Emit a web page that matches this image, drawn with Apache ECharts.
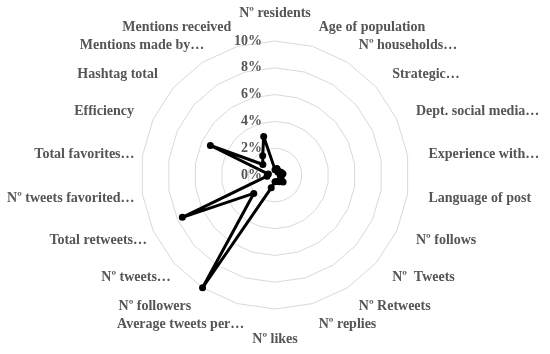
<!DOCTYPE html>
<html>
<head>
<meta charset="utf-8">
<script src="https://cdn.jsdelivr.net/npm/echarts@6/dist/echarts.min.js"></script>
<style>
html,body{margin:0;padding:0;background:#fff;}
#chart{width:550px;height:354px;}
</style>
</head>
<body>
<div id="chart"></div>
<script>
// Indicators listed clockwise starting at the top
const indicatorNames = ['Nº residents','Age of population','Nº households…','Strategic…','Dept. social media…','Experience with…','Language of post','Nº follows','Nº  Tweets','Nº Retweets','Nº replies','Nº likes','Average tweets per…','Nº followers','Nº tweets…','Total retweets…','Nº tweets favorited…','Total favorites…','Efficiency','Hashtag total','Mentions made by…','Mentions received'];
const seriesValues = [0.4,0.5,0.4,0.3,0.5,0.6,0.4,0.5,0.8,0.6,0.5,0.5,1.0,10.0,2.1,7.6,0.6,0.5,5.3,1.2,1.7,3.0];
const radialTicks = [0,2,4,6,8,10];
const radialMax = 10;

// ---- layout / style (not data) ----
const center = [275, 175];
const radius = 134;
const nameGap = -40;          // base anchor, labels pushed out by padding below
const labelRadius = 155;      // where Excel-style labels sit
const labelShiftX = {12: 13, 14: 13, 15: 13, 16: 13, 17: 13, 20: 13}; // horizontal nudges of some left labels
const topLabelBottom = 20.5, bottomLabelTop = 332;
const textColor = '#555555';
const fontFamily = '"Liberation Serif", "Times New Roman", serif';
const baseFont = { color: textColor, fontSize: 14, fontWeight: 'bold', fontFamily: fontFamily };

const n = indicatorNames.length;
// ECharts lays radar indicators out counter-clockwise; reorder to get clockwise
const order = [0];
for (let i = n - 1; i >= 1; i--) order.push(i);
const indicator = order.map(i => ({ name: indicatorNames[i], min: 0, max: radialMax }));
const data = order.map(i => seriesValues[i]);

// per-label rich styles that move each name to its place
const r0 = radius + nameGap;
const rich = {};
const keyOf = {};
indicatorNames.forEach((name, i) => {
  const th = i * 2 * Math.PI / n;
  const s = Math.sin(th), c = Math.cos(th);
  const ext = labelRadius - r0;
  let pad;
  if (i === 0) {
    pad = [0, 0, (center[1] - r0) - topLabelBottom, 0];
  } else if (i * 2 === n) {
    pad = [bottomLabelTop - (center[1] + r0), 0, 0, 0];
  } else {
    const dy = -ext * c + 1;
    const pt = dy > 0 ? 2 * dy : 0, pb = dy < 0 ? -2 * dy : 0;
    if (i < n / 2) {
      pad = [pt, 0, pb, ext * s];
    } else {
      const dx = ext * s + (labelShiftX[i] || 0); // s < 0
      pad = [pt, -dx, pb, 0];
    }
  }
  keyOf[name] = 'k' + i;
  rich['k' + i] = Object.assign({ padding: pad.map(v => Math.round(v * 10) / 10) }, baseFont);
});

const chart = echarts.init(document.getElementById('chart'));
chart.setOption({
  animation: false,
  backgroundColor: '#fff',
  radar: {
    center: center,
    radius: radius,
    startAngle: 90,
    shape: 'polygon',
    splitNumber: radialTicks.length - 1,
    indicator: indicator,
    axisName: Object.assign({}, baseFont, {
      formatter: function (name) { return '{' + keyOf[name] + '|' + name + '}'; },
      rich: rich
    }),
    nameGap: nameGap,
    axisLine: { show: false },
    axisTick: { show: false },
    axisLabel: { show: false },
    splitArea: { show: false },
    splitLine: { lineStyle: { color: '#d9d9d9', width: 1 } }
  },
  polar: { center: center, radius: radius },
  angleAxis: { show: false, startAngle: 90, min: 0, max: 360 },
  radiusAxis: {
    min: radialTicks[0], max: radialTicks[radialTicks.length - 1], interval: radialTicks[1] - radialTicks[0],
    axisLine: { show: false }, axisTick: { show: false }, splitLine: { show: false },
    axisLabel: Object.assign({ formatter: '{value}%', margin: 13 }, baseFont),
    z: 10
  },
  series: [{
    type: 'radar',
    symbol: 'circle',
    symbolSize: 7,
    lineStyle: { color: '#000', width: 3 },
    itemStyle: { color: '#000' },
    data: [{ value: data }]
  }]
});
</script>
</body>
</html>
